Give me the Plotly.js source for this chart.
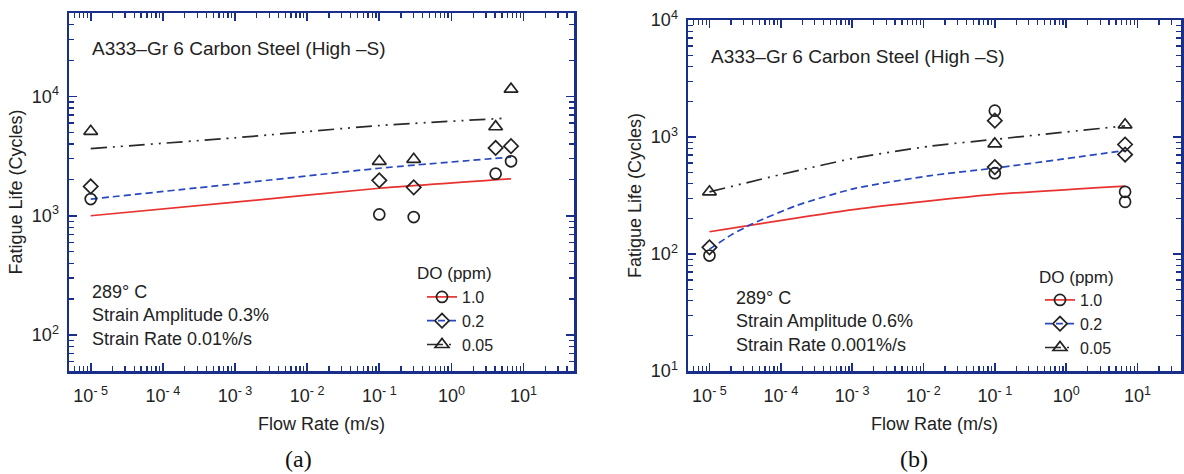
<!DOCTYPE html>
<html>
<head>
<meta charset="utf-8">
<script src="https://cdn.plot.ly/plotly-3.0.1.min.js"></script>
<style>
  html, body { margin: 0; padding: 0; background: #ffffff; }
  #chart { width: 1184px; height: 474px; }
</style>
</head>
<body>
<div id="chart"></div>
<script>
// ---------- Data: panel (a) strain amplitude 0.3%, strain rate 0.01%/s ----------
const flowA = [1e-5, 0.1, 0.3, 4.1, 6.7];
const lifeA_DO10 = [1380, 1025, 975, 2250, 2860];
const lifeA_DO02 = [1760, 1980, 1730, 3700, 3830];
const lifeA_DO005 = [5100, 2860, 2970, 5570, 11500];

const fitA_x = [1e-5, 1e-3, 0.1, 6.7];
const fitA_DO10 = [1000, 1300, 1700, 2040];
const fitA_DO02 = [1380, 1850, 2500, 3100];
const fitA_x005 = [1e-5, 1e-3, 0.1, 5.3];
const fitA_DO005 = [3650, 4500, 5700, 6550];

// ---------- Data: panel (b) strain amplitude 0.6%, strain rate 0.001%/s ----------
const flowB_DO10 = [1e-5, 0.1, 0.1, 6.7, 6.7];
const lifeB_DO10 = [97, 1680, 491, 340, 279];
const flowB_DO02 = [1e-5, 0.1, 0.1, 6.7, 6.7];
const lifeB_DO02 = [114, 1380, 553, 863, 708];
const flowB_DO005 = [1e-5, 0.1, 6.7];
const lifeB_DO005 = [340, 875, 1270];

const fitB_x10 = [1e-5, 1.1e-3, 0.1, 6.7];
const fitB_DO10 = [155, 241, 323, 381];
const fitB_x02 = [1e-5, 2e-5, 4e-5, 1.7e-4, 1.1e-3, 1.26e-2, 0.1, 6.7];
const fitB_DO02 = [110, 145, 181, 261, 364, 468, 542, 766];
const fitB_x005 = [1e-5, 9.5e-5, 1.1e-3, 1.26e-2, 0.1, 6.7];
const fitB_DO005 = [340, 474, 662, 836, 955, 1245];

// ---------- Labels ----------
const doLabels = ['1.0', '0.2', '0.05'];
const legendTitle = 'DO (ppm)';
const xTickVals = [1e-5, 1e-4, 1e-3, 1e-2, 1e-1, 1, 10];
const xTickText = ['10<sup>- 5</sup>', '10<sup>- 4</sup>', '10<sup>- 3</sup>', '10<sup>- 2</sup>', '10<sup>- 1</sup>', '10<sup>0</sup>', '10<sup>1</sup>'];
const yTickValsA = [100, 1000, 10000];
const yTickTextA = ['10<sup>2</sup>', '10<sup>3</sup>', '10<sup>4</sup>'];
const yTickValsB = [10, 100, 1000, 10000];
const yTickTextB = ['10<sup>1</sup>', '10<sup>2</sup>', '10<sup>3</sup>', '10<sup>4</sup>'];

// ---------- Styles ----------
const FONT = 'Liberation Sans, Arial, Helvetica, sans-serif';
const AX = '#1a2e8c';
const RED = '#e8322f';
const BLUE = '#2848c0';
const BLACK = '#2a2a2a';
const MK = '#222222';
const dashBlue = '7px,4px';
const dashBlack = '16px,6px,2px,6px,2px,6px';
const W = 1184, H = 474;
const px = v => v / W;
const py = v => 1 - v / H;
const SZ = { circle: 11, diamond: 11, tri: 12 };

function lineTrace(x, y, color, dash, xa, ya) {
  return { x: x, y: y, mode: 'lines', type: 'scatter', xaxis: xa, yaxis: ya,
    line: { color: color, width: 1.7, dash: dash, shape: 'spline', smoothing: 0.6 },
    showlegend: false, hoverinfo: 'skip' };
}
function markTrace(x, y, symbol, size, xa, ya) {
  return { x: x, y: y, mode: 'markers', type: 'scatter', xaxis: xa, yaxis: ya,
    marker: { symbol: symbol, size: size, color: MK, line: { width: 1.7, color: MK } },
    showlegend: false };
}
function legTrace(name, color, dash, symbol, size, xa, ya, leg) {
  return { x: [null], y: [null], mode: 'lines+markers', type: 'scatter', xaxis: xa, yaxis: ya,
    name: name, legend: leg,
    line: { color: color, width: 1.7, dash: dash },
    marker: { symbol: symbol, size: size, color: MK, line: { width: 1.7, color: MK } } };
}

const traces = [
  // panel (a)
  lineTrace(fitA_x, fitA_DO10, RED, 'solid', 'x', 'y'),
  lineTrace(fitA_x, fitA_DO02, BLUE, dashBlue, 'x', 'y'),
  lineTrace(fitA_x005, fitA_DO005, BLACK, dashBlack, 'x', 'y'),
  markTrace(flowA, lifeA_DO10, 'circle-open', SZ.circle, 'x', 'y'),
  markTrace(flowA, lifeA_DO02, 'diamond-open', SZ.diamond, 'x', 'y'),
  markTrace(flowA, lifeA_DO005, 'triangle-up-open', SZ.tri, 'x', 'y'),
  legTrace(doLabels[0], RED, 'solid', 'circle-open', SZ.circle, 'x', 'y', 'legend'),
  legTrace(doLabels[1], BLUE, dashBlue, 'diamond-open', SZ.diamond, 'x', 'y', 'legend'),
  legTrace(doLabels[2], BLACK, dashBlack, 'triangle-up-open', SZ.tri, 'x', 'y', 'legend'),
  // panel (b)
  lineTrace(fitB_x10, fitB_DO10, RED, 'solid', 'x2', 'y2'),
  lineTrace(fitB_x02, fitB_DO02, BLUE, dashBlue, 'x2', 'y2'),
  lineTrace(fitB_x005, fitB_DO005, BLACK, dashBlack, 'x2', 'y2'),
  markTrace(flowB_DO10, lifeB_DO10, 'circle-open', SZ.circle, 'x2', 'y2'),
  markTrace(flowB_DO02, lifeB_DO02, 'diamond-open', SZ.diamond, 'x2', 'y2'),
  markTrace(flowB_DO005, lifeB_DO005, 'triangle-up-open', SZ.tri, 'x2', 'y2'),
  legTrace(doLabels[0], RED, 'solid', 'circle-open', SZ.circle, 'x2', 'y2', 'legend2'),
  legTrace(doLabels[1], BLUE, dashBlue, 'diamond-open', SZ.diamond, 'x2', 'y2', 'legend2'),
  legTrace(doLabels[2], BLACK, dashBlack, 'triangle-up-open', SZ.tri, 'x2', 'y2', 'legend2')
];

function baseAxis() {
  return {
    type: 'log', showline: true, linecolor: AX, linewidth: 2.5, mirror: 'allticks',
    ticks: 'inside', ticklen: 8, tickwidth: 1.6, tickcolor: AX,
    showgrid: false, zeroline: false, fixedrange: true,
    tickfont: { family: FONT, size: 18, color: '#222' },
    minor: { ticks: 'inside', ticklen: 5, tickwidth: 1.3, tickcolor: AX, dtick: 'D1', showgrid: false },
    tickmode: 'array'
  };
}
const TITLEFONT = { family: FONT, size: 18, color: '#222' };

const xa = Object.assign(baseAxis(), {
  domain: [px(69), px(574)], range: [Math.log10(5e-6), Math.log10(50)],
  tickvals: xTickVals, ticktext: xTickText, anchor: 'y', ticklabelstandoff: 7,
  title: { text: 'Flow Rate (m/s)', font: TITLEFONT, standoff: 13 }
});
const ya = Object.assign(baseAxis(), {
  domain: [py(371), py(13)], range: [Math.log10(50), Math.log10(50000)],
  tickvals: yTickValsA, ticktext: yTickTextA, anchor: 'x', ticklabelstandoff: 4,
  title: { text: 'Fatigue Life (Cycles)', font: TITLEFONT, standoff: 5 }
});
const xb = Object.assign(baseAxis(), {
  domain: [px(688), px(1181)], range: [Math.log10(5e-6), 1.61],
  tickvals: xTickVals, ticktext: xTickText, anchor: 'y2', ticklabelstandoff: 7,
  title: { text: 'Flow Rate (m/s)', font: TITLEFONT, standoff: 13 }
});
const yb = Object.assign(baseAxis(), {
  domain: [py(371), py(20)], range: [1, 4],
  tickvals: yTickValsB, ticktext: yTickTextB, anchor: 'x2', ticklabelstandoff: 4,
  title: { text: 'Fatigue Life (Cycles)', font: TITLEFONT, standoff: 5 }
});

function legendCfg(xpx, ypx) {
  return {
    x: px(xpx), xanchor: 'left', y: py(ypx), yanchor: 'top',
    bgcolor: 'rgba(0,0,0,0)', borderwidth: 0, tracegroupgap: 0,
    font: { family: FONT, size: 16, color: '#222' }
  };
}

const TXT = { family: FONT, size: 18, color: '#222' };
const annotations = [
  { xref: 'paper', yref: 'paper', x: px(90), y: py(49), xanchor: 'left', yanchor: 'middle', showarrow: false,
    text: 'A333–Gr 6 Carbon Steel (High –S)', font: { family: FONT, size: 19, color: '#222' } },
  { xref: 'paper', yref: 'paper', x: px(90), y: py(315), xanchor: 'left', yanchor: 'middle', align: 'left', showarrow: false,
    text: '289° C<br>Strain Amplitude 0.3%<br>Strain Rate 0.01%/s', font: TXT },
  { xref: 'paper', yref: 'paper', x: px(709), y: py(56), xanchor: 'left', yanchor: 'middle', showarrow: false,
    text: 'A333–Gr 6 Carbon Steel (High –S)', font: { family: FONT, size: 19, color: '#222' } },
  { xref: 'paper', yref: 'paper', x: px(734), y: py(321), xanchor: 'left', yanchor: 'middle', align: 'left', showarrow: false,
    text: '289° C<br>Strain Amplitude 0.6%<br>Strain Rate 0.001%/s', font: TXT },
  { xref: 'paper', yref: 'paper', x: px(455), y: py(273), xanchor: 'center', yanchor: 'middle', showarrow: false,
    text: legendTitle, font: { family: FONT, size: 17, color: '#222' } },
  { xref: 'paper', yref: 'paper', x: px(1076), y: py(277), xanchor: 'center', yanchor: 'middle', showarrow: false,
    text: legendTitle, font: { family: FONT, size: 17, color: '#222' } },
  { xref: 'paper', yref: 'paper', x: px(298), y: py(459), xanchor: 'center', yanchor: 'middle', showarrow: false,
    text: '(a)', font: { family: 'Liberation Serif, Times New Roman, serif', size: 24, color: '#111' } },
  { xref: 'paper', yref: 'paper', x: px(914), y: py(459), xanchor: 'center', yanchor: 'middle', showarrow: false,
    text: '(b)', font: { family: 'Liberation Serif, Times New Roman, serif', size: 24, color: '#111' } }
];

const layout = {
  width: W, height: H,
  margin: { l: 0, r: 0, t: 0, b: 0, pad: 0 },
  paper_bgcolor: '#ffffff', plot_bgcolor: '#ffffff',
  font: { family: FONT, color: '#222' },
  xaxis: xa, yaxis: ya, xaxis2: xb, yaxis2: yb,
  legend: legendCfg(422, 280),
  legend2: legendCfg(1040, 283),
  annotations: annotations,
  showlegend: true
};

Plotly.newPlot('chart', traces, layout, { staticPlot: true, displayModeBar: false });
</script>
</body>
</html>
